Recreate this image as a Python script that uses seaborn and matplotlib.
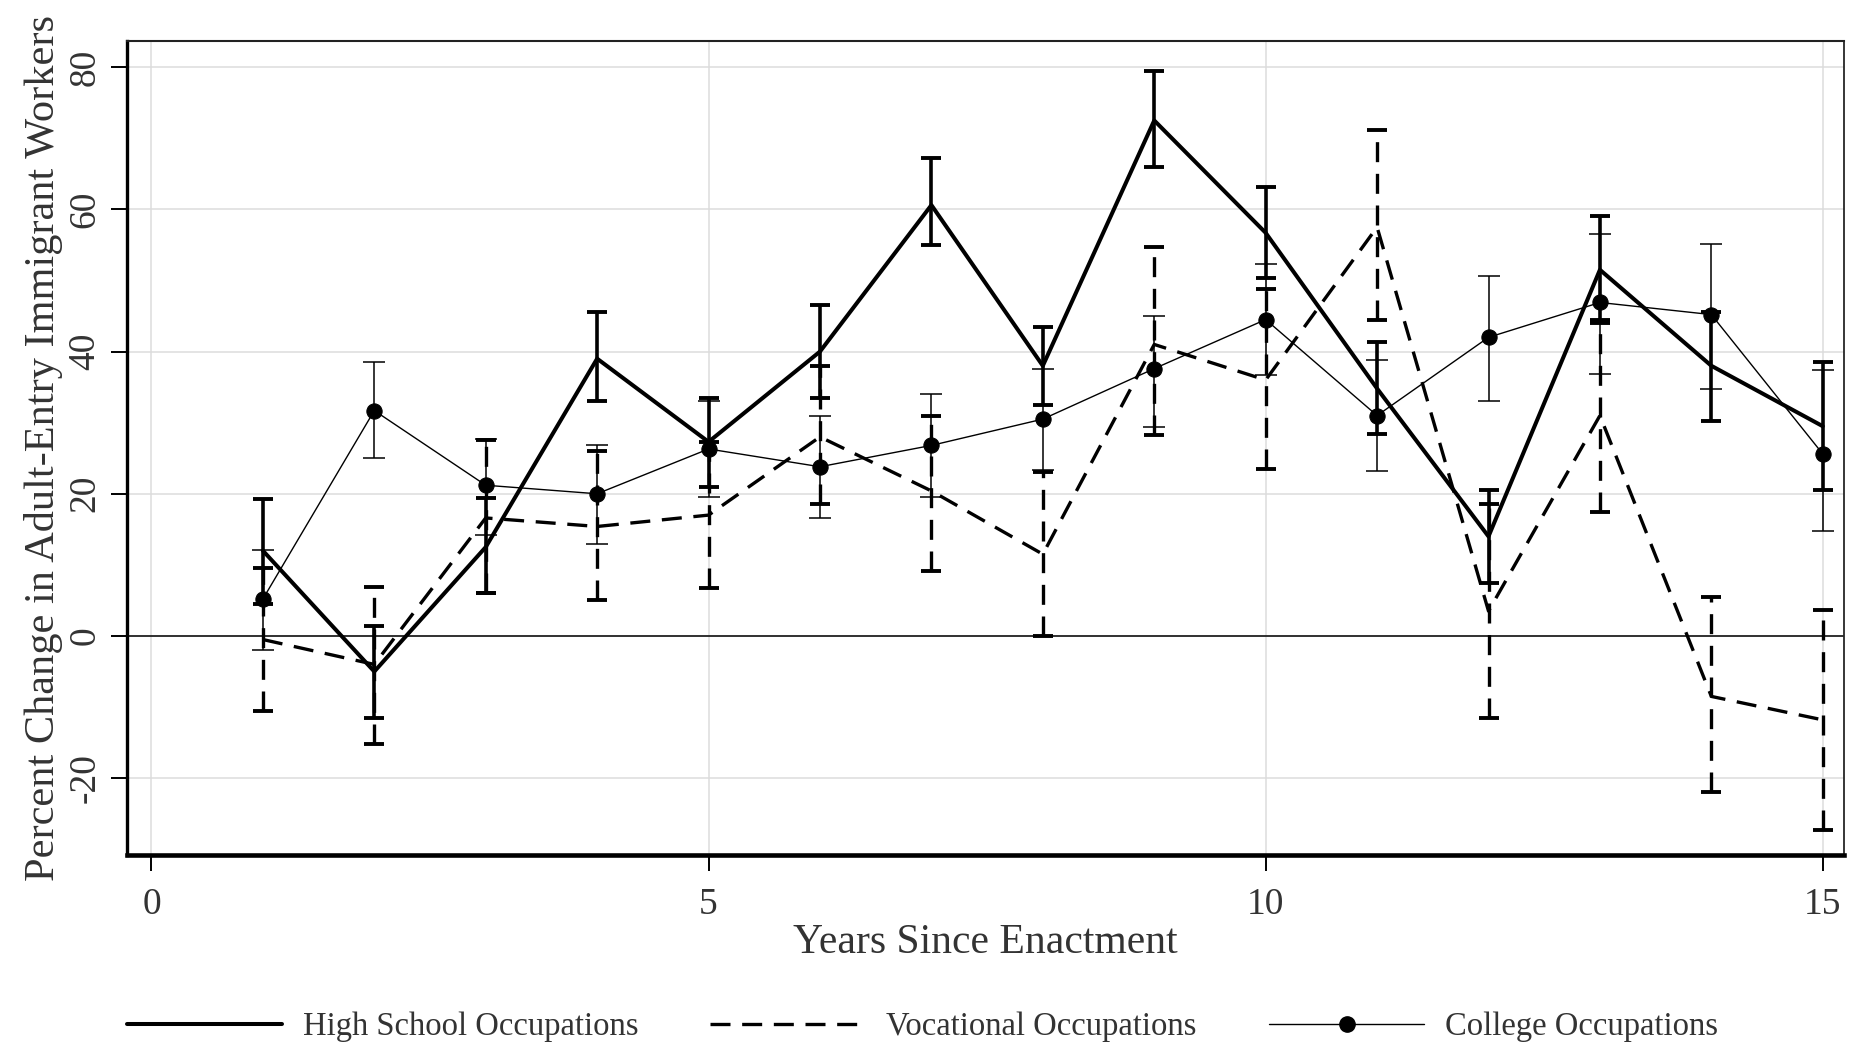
import numpy as np
import seaborn as sns
import matplotlib.pyplot as plt
from matplotlib.lines import Line2D

# Datos (años desde la promulgación)
years = np.arange(1, 16)

hs = np.array([12, -5, 12.5, 39, 27.3, 40, 60.6, 38, 72.5, 56.7, 34.8, 14, 51.5, 38, 29.5])
hs_lo = np.array([4.5, -11.6, 6, 33, 21, 33.5, 55, 32.5, 66, 50.4, 28.4, 7.5, 44, 30.2, 20.6])
hs_hi = np.array([19.2, 1.4, 19.4, 45.6, 33.5, 46.5, 67.2, 43.5, 79.5, 63.2, 41.4, 20.6, 59, 45.6, 38.5])

voc = np.array([-0.5, -4, 16.6, 15.4, 17, 28, 20.4, 11.5, 41, 36, 57.5, 3.5, 31, -8.5, -11.8])
voc_lo = np.array([-10.5, -15.2, 6, 5, 6.7, 18.5, 9.2, 0, 28.2, 23.5, 44.5, -11.6, 17.5, -22, -27.3])
voc_hi = np.array([9.5, 6.9, 27.5, 26, 27.3, 38, 31, 23, 54.7, 48.8, 71.2, 18.5, 44.5, 5.5, 3.6])

college = np.array([5.2, 31.7, 21.2, 20, 26.3, 23.8, 26.8, 30.5, 37.6, 44.5, 31, 42, 46.9, 45.2, 25.6])
col_lo = np.array([-2, 25, 14.2, 13, 19.5, 16.6, 19.5, 23.4, 29.4, 36.7, 23.2, 33, 36.9, 34.8, 14.7])
col_hi = np.array([12.1, 38.5, 27.7, 26.8, 33, 31, 34.1, 37.6, 45, 52.3, 38.8, 50.6, 56.5, 55.1, 37.4])

labels = ["High School Occupations", "Vocational Occupations", "College Occupations"]

sns.set_style("white")
plt.rcParams['font.family'] = ['Liberation Serif', 'DejaVu Serif']
plt.rcParams['axes.unicode_minus'] = False
txt = '#333333'
dash = (0, (6, 3.5))

fig = plt.figure(figsize=(18.56, 10.47), dpi=100)
ax = fig.add_axes([0.0684, 0.1834, 0.9251, 0.7776])

# grid
ax.set_axisbelow(True)
ax.grid(True, color='#dcdcdc', linewidth=1.1)
ax.axhline(0, color='black', linewidth=1.1, zorder=1)

# barras de error
ax.errorbar(years, hs, yerr=[hs - hs_lo, hs_hi - hs], fmt='none', ecolor='black',
            elinewidth=2.6, capsize=7.5, capthick=2.8, zorder=3)
eb = ax.errorbar(years, voc, yerr=[voc - voc_lo, voc_hi - voc], fmt='none', ecolor='black',
                 elinewidth=2.4, capsize=7.5, capthick=2.8, zorder=3)
eb[2][0].set_linestyle(dash)
ax.errorbar(years, college, yerr=[college - col_lo, col_hi - college], fmt='none', ecolor='black',
            elinewidth=1.1, capsize=8, capthick=1.1, zorder=3)

# líneas
sns.lineplot(x=years, y=hs, ax=ax, color='black', linewidth=2.9, zorder=4)
sns.lineplot(x=years, y=voc, ax=ax, color='black', linewidth=2.4, linestyle=dash, zorder=4)
sns.lineplot(x=years, y=college, ax=ax, color='black', linewidth=1.0, marker='o',
             markersize=11, markeredgecolor='black', zorder=5)

ax.set_xlim(-0.22, 15.19)
ax.set_ylim(-30.8, 83.7)
ax.set_xticks([0, 5, 10, 15])
ax.set_yticks([-20, 0, 20, 40, 60, 80])
ax.tick_params(axis='both', direction='out', length=11.5, width=1.4, color='black',
               labelsize=27, labelcolor=txt, left=True, bottom=True, pad=6)
ax.tick_params(axis='x', pad=12)
for t in ax.get_yticklabels():
    t.set_rotation(90)
    t.set_va('center')

ax.set_xlabel("Years Since Enactment", fontsize=30, color=txt, labelpad=1)
ax.set_ylabel("Percent Change in Adult-Entry Immigrant Workers", fontsize=30.5, color=txt, labelpad=4)

ax.spines['left'].set_linewidth(2.4)
ax.spines['bottom'].set_linewidth(3.3)
ax.spines['top'].set_linewidth(1.5)
ax.spines['top'].set_color('#222222')
ax.spines['right'].set_linewidth(1.3)
for s in ax.spines.values():
    s.set_visible(True)
ax.spines['left'].set_color('black')
ax.spines['bottom'].set_color('black')

handles = [
    Line2D([], [], color='black', linewidth=2.9),
    Line2D([], [], color='black', linewidth=2.4, linestyle=dash),
    Line2D([], [], color='black', linewidth=1.0, marker='o', markersize=11),
]
# una leyenda por entrada, colocadas como en el original
x_pos = [127 / 1856, 710 / 1856, 1269 / 1856]
for h, lab, xp in zip(handles, labels, x_pos):
    fig.legend([h], [lab], loc='center left', bbox_to_anchor=(xp, 0.019), frameon=False,
               fontsize=23.5, handlelength=4.75, handletextpad=0.65, borderpad=0,
               borderaxespad=0, labelcolor=txt)

fig.savefig("out.png", dpi=100)
